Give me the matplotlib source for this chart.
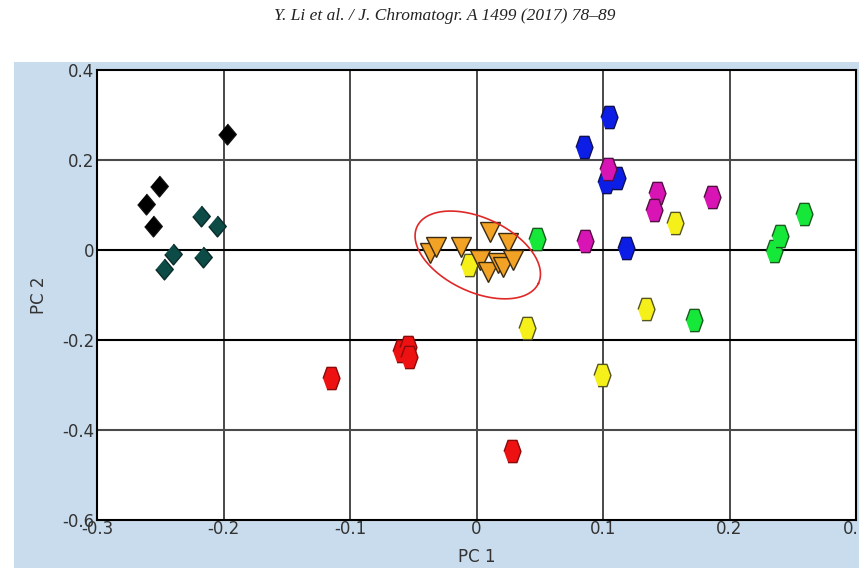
import numpy as np
import matplotlib
matplotlib.use('Agg')
import matplotlib.pyplot as plt
from matplotlib.patches import Rectangle

# PCA scores (PC 1, PC 2)
black_x = [-0.197, -0.251, -0.261, -0.256]
black_y = [0.258, 0.142, 0.102, 0.053]
teal_x = [-0.218, -0.205, -0.240, -0.247, -0.216]
teal_y = [0.076, 0.053, -0.009, -0.042, -0.016]
orange_x = [-0.037, -0.032, -0.012, 0.011, 0.025, 0.003, 0.009, 0.017, 0.021, 0.029]
orange_y = [-0.007, 0.007, 0.007, 0.040, 0.016, -0.022, -0.049, -0.029, -0.038, -0.022]
red_x = [-0.115, -0.060, -0.054, -0.053, 0.028]
red_y = [-0.285, -0.224, -0.215, -0.238, -0.447]
yellow_x = [-0.006, 0.040, 0.099, 0.157, 0.134]
yellow_y = [-0.033, -0.173, -0.278, 0.061, -0.130]
green_x = [0.048, 0.172, 0.235, 0.240, 0.259]
green_y = [0.024, -0.156, -0.002, 0.031, 0.081]
blue_x = [0.105, 0.085, 0.102, 0.111, 0.118]
blue_y = [0.296, 0.230, 0.152, 0.159, 0.004]
magenta_x = [0.104, 0.143, 0.140, 0.186, 0.086]
magenta_y = [0.180, 0.127, 0.089, 0.117, 0.021]

x_ticks = [-0.3, -0.2, -0.1, 0, 0.1, 0.2, 0.3]
y_ticks = [-0.6, -0.4, -0.2, 0, 0.2, 0.4]
x_labels = ['-0.3', '-0.2', '-0.1', '0', '0.1', '0.2', '0.3']
y_labels = ['-0.6', '-0.4', '-0.2', '0', '0.2', '0.4']

# ellipse around the orange group: centre (data), semi-axes (px), angle (deg)
ell_center = (0.001, -0.011)
ell_a, ell_b, ell_angle = 67, 37, -25

hexagon = [(-0.38, 0), (-0.2, 0.5), (0.2, 0.5), (0.38, 0), (0.2, -0.5), (-0.2, -0.5)]
diamond = [(0, 0.5), (0.42, 0), (0, -0.5), (-0.42, 0)]

fig = plt.figure(figsize=(8.59, 5.68), dpi=100)
fig.patches.append(Rectangle((14 / 859, 0), 1, 1 - 62 / 568, transform=fig.transFigure,
                             facecolor='#c9dced', edgecolor='none', zorder=-10))
fig.text(0.518, 0.972, 'Y. Li et al. / J. Chromatogr. A 1499 (2017) 78–89',
         ha='center', va='center', fontsize=12.5, style='italic',
         family='Liberation Serif', color='#222222')

ax = fig.add_axes([97 / 859, 1 - 520 / 568, 759 / 859, 450 / 568])
ax.set_facecolor('white')
ax.set_xlim(-0.3, 0.3)
ax.set_ylim(-0.6, 0.4)
ax.set_xticks(x_ticks)
ax.set_xticklabels(x_labels)
ax.set_yticks(y_ticks)
ax.set_yticklabels(y_labels)
ax.tick_params(length=0, labelsize=12, labelcolor='#333333', pad=2)
for t in ax.get_xticklabels():
    t.set_y(0.006)
for s in ax.spines.values():
    s.set_color('black')
    s.set_linewidth(1.5)
for xv in x_ticks[1:-1]:
    ax.axvline(xv, color='#3a3a3a', lw=1.3, zorder=1)
for yv in y_ticks[1:-1]:
    if yv in (0, -0.2):
        ax.axhline(yv, color='black', lw=1.5, zorder=1)
    else:
        ax.axhline(yv, color='#4a4a4a', lw=1.5, zorder=1)

ax.set_xlabel('PC 1', fontsize=12, color='#333333', labelpad=7)
ax.set_ylabel('PC 2', fontsize=12, color='#333333', labelpad=10)

kw = dict(linestyle='none', zorder=3, markeredgewidth=1.0)
ax.plot(black_x, black_y, marker=diamond, ms=15, color='black', markeredgecolor='#111111', **kw)
ax.plot(teal_x, teal_y, marker=diamond, ms=15, color='#0d4b47', markeredgecolor='#0a2a28', **kw)
ax.plot(red_x, red_y, marker=hexagon, ms=16, color='#ee1111', markeredgecolor='#8a0a0a', **kw)
ax.plot(yellow_x, yellow_y, marker=hexagon, ms=16, color='#f6f01a', markeredgecolor='#555522', **kw)
ax.plot(green_x, green_y, marker=hexagon, ms=16, color='#16e83a', markeredgecolor='#1a5a20', **kw)
ax.plot(blue_x, blue_y, marker=hexagon, ms=16, color='#0c1ee6', markeredgecolor='#101050', **kw)
ax.plot(magenta_x, magenta_y, marker=hexagon, ms=16, color='#d815b4', markeredgecolor='#501040', **kw)
ax.plot(orange_x, orange_y, marker='v', ms=14, color='#f2a224', markeredgecolor='#3a2a10', **kw)

# ellipse drawn in pixel space, converted to data units
px_x = 759 / 0.6
px_y = 450 / 1.0
t = np.linspace(0, 2 * np.pi, 200)
th = np.deg2rad(ell_angle)
dx = ell_a * np.cos(t) * np.cos(th) - ell_b * np.sin(t) * np.sin(th)
dy = ell_a * np.cos(t) * np.sin(th) + ell_b * np.sin(t) * np.cos(th)
ax.plot(ell_center[0] + dx / px_x, ell_center[1] + dy / px_y, color='#e02828', lw=1.2, zorder=4)

fig.savefig('out.png', dpi=100)
